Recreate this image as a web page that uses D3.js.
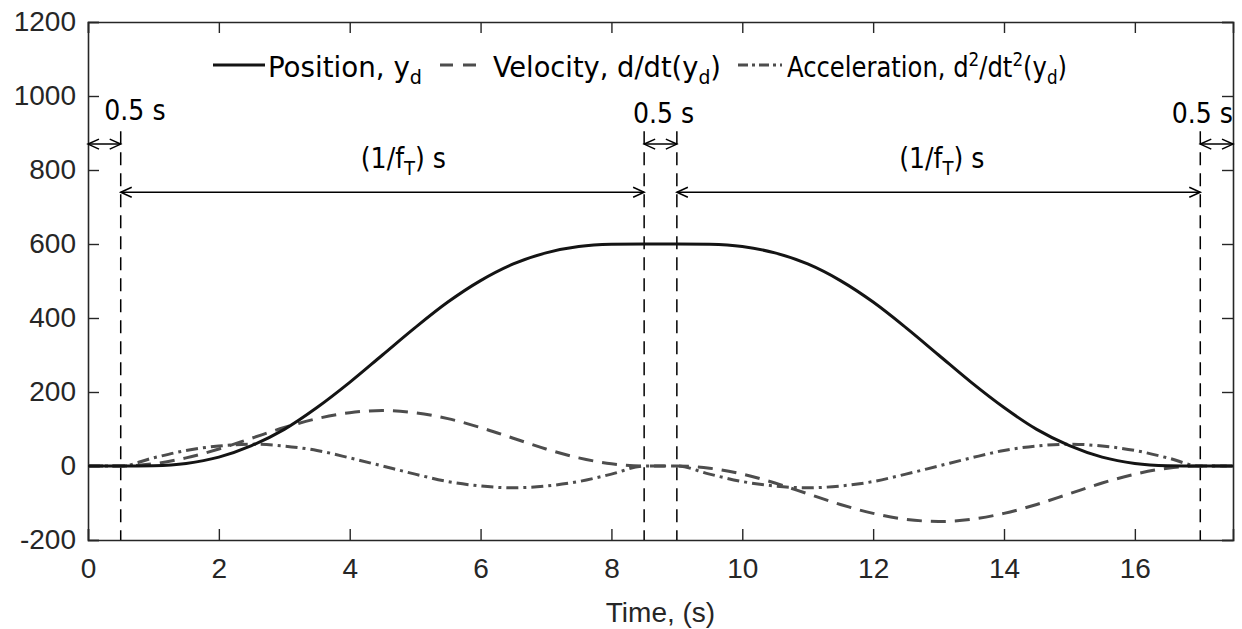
<!DOCTYPE html>
<html>
<head>
<meta charset="utf-8">
<script src="https://cdn.jsdelivr.net/npm/d3@7"></script>
<style>
  body { margin: 0; background: #fff; }
  svg { display: block; }
  .tick text { font-family: "Liberation Sans", Arial, sans-serif; }
</style>
</head>
<body>
<div id="chart"></div>
<script>
// sample times (s) and values
const time = [0, 0.5, 1, 1.5, 2, 2.5, 3, 3.5, 4, 4.5, 5, 5.5, 6, 6.5, 7, 7.5, 8, 8.5,
  9, 9.5, 10, 10.5, 11, 11.5, 12, 12.5, 13, 13.5, 14, 14.5, 15, 15.5, 16, 16.5, 17, 17.5];
const position = [0, 0, 1, 7, 24, 55, 99, 158, 226, 300, 374, 443, 501, 546, 576, 593, 599, 600,
  600, 599, 593, 576, 546, 501, 443, 374, 300, 226, 158, 99, 55, 24, 7, 1, 0, 0];
const velocity = [0, 0, 6, 22, 46, 75, 104, 128, 144, 150, 144, 128, 104, 75, 46, 22, 6, 0,
  0, -6, -22, -46, -75, -104, -128, -144, -150, -144, -128, -104, -75, -46, -22, -6, 0, 0];
const acceleration = [0, 0, 22, 42, 54, 59, 54, 42, 22, 0, -22, -42, -54, -59, -54, -42, -22, 0,
  0, -22, -42, -54, -59, -54, -42, -22, 0, 22, 42, 54, 59, 54, 42, 22, 0, 0];

const xTicks = [0, 2, 4, 6, 8, 10, 12, 14, 16];
const yTicks = [-200, 0, 200, 400, 600, 800, 1000, 1200];

// phase boundaries and annotation arrows
const boundaries = [0.5, 8.5, 9, 17];
const arrowFrom = [0, 0.5, 8.5, 9, 17];
const arrowTo = [0.5, 8.5, 9, 17, 17.5];
const arrowLevel = [870, 740, 870, 740, 870];

const width = 1242;
const height = 629;
const margin = { left: 88, right: 9, top: 22, bottom: 89 };

const svg = d3.select('#chart')
  .append('svg')
  .attr('width', width)
  .attr('height', height);

const x = d3.scaleLinear().domain([0, 17.5]).range([margin.left, width - margin.right]);
const y = d3.scaleLinear().domain([-200, 1200]).range([height - margin.bottom, margin.top]);

const axisColor = '#262626';
const tickLen = 11;

// axes (MATLAB style: ticks inside, box all round)
const gx = svg.append('g')
  .attr('transform', `translate(0,${y(-200)})`)
  .call(d3.axisBottom(x).tickValues(xTicks).tickSize(-tickLen).tickPadding(18));
const gy = svg.append('g')
  .attr('transform', `translate(${x(0)},0)`)
  .call(d3.axisLeft(y).tickValues(yTicks).tickFormat((d) => String(d)).tickSize(-tickLen).tickPadding(12));
svg.append('g')
  .attr('transform', `translate(0,${y(1200)})`)
  .call(d3.axisTop(x).tickValues(xTicks).tickSize(-tickLen).tickFormat(''));
svg.append('g')
  .attr('transform', `translate(${x(17.5)},0)`)
  .call(d3.axisRight(y).tickValues(yTicks).tickSize(-tickLen).tickFormat(''));

svg.selectAll('.domain').attr('stroke', axisColor).attr('stroke-width', 1.6);
svg.selectAll('.tick line').attr('stroke', axisColor).attr('stroke-width', 1.4);
svg.selectAll('.tick text')
  .attr('fill', axisColor)
  .style('font-size', '28px');
gx.selectAll('.tick text').attr('dy', '0.71em');

svg.append('text')
  .attr('x', x(8.75))
  .attr('y', 622)
  .attr('text-anchor', 'middle')
  .attr('fill', axisColor)
  .style('font-family', '"Liberation Sans", Arial, sans-serif')
  .style('font-size', '28px')
  .text('Time, (s)');

// vertical dashed boundary lines
svg.append('g')
  .selectAll('line')
  .data(boundaries)
  .enter()
  .append('line')
  .attr('x1', (d) => x(d))
  .attr('x2', (d) => x(d))
  .attr('y1', y(905))
  .attr('y2', y(-200))
  .attr('stroke', '#000')
  .attr('stroke-width', 1.5)
  .attr('stroke-dasharray', '13,8');

// curves
const series = [
  { values: position, color: '#141414', dash: null, width: 3 },
  { values: velocity, color: '#4d4d4d', dash: '15,9', width: 3 },
  { values: acceleration, color: '#4d4d4d', dash: '12,5,3,5', width: 3 },
];

const line = d3.line()
  .x((d) => x(d[0]))
  .y((d) => y(d[1]))
  .curve(d3.curveMonotoneX);

svg.append('g')
  .selectAll('path')
  .data(series.slice().reverse())
  .enter()
  .append('path')
  .attr('d', (s) => line(time.map((t, i) => [t, s.values[i]])))
  .attr('fill', 'none')
  .attr('stroke', (s) => s.color)
  .attr('stroke-width', (s) => s.width)
  .attr('stroke-dasharray', (s) => s.dash);

// double headed arrows with open heads
const headLen = 11;
const headHalf = 5;
const arrows = svg.append('g').attr('stroke', '#000').attr('stroke-width', 1.5).attr('fill', 'none');
arrowFrom.forEach((a, i) => {
  const x0 = x(a);
  const x1 = x(arrowTo[i]);
  const yy = y(arrowLevel[i]);
  arrows.append('line').attr('x1', x0).attr('x2', x1).attr('y1', yy).attr('y2', yy);
  arrows.append('path').attr('d', `M${x0 + headLen},${yy - headHalf}L${x0},${yy}L${x0 + headLen},${yy + headHalf}`);
  arrows.append('path').attr('d', `M${x1 - headLen},${yy - headHalf}L${x1},${yy}L${x1 - headLen},${yy + headHalf}`);
});

// annotation labels
const annoFont = '"DejaVu Sans Condensed", "DejaVu Sans", sans-serif';
const addLabel = (xPos, yVal, anchor, parts) => {
  const t = svg.append('text')
    .attr('x', xPos)
    .attr('y', y(yVal))
    .attr('text-anchor', anchor)
    .style('font-family', annoFont)
    .style('font-size', '28px')
    .attr('fill', '#000');
  parts.forEach((p) => {
    const span = t.append('tspan').text(p.text);
    if (p.sub) span.attr('dy', 7).style('font-size', '20px');
    if (p.sup) span.attr('dy', -11).style('font-size', '20px');
    if (p.back) span.attr('dy', p.back);
  });
  return t;
};

addLabel(x(0.25), 935, 'start', [{ text: '0.5 s' }]);
addLabel(x(8.33), 927, 'start', [{ text: '0.5 s' }]);
addLabel(x(17.5), 927, 'end', [{ text: '0.5 s' }]);
addLabel(x(4.82), 805, 'middle', [{ text: '(1/f' }, { text: 'T', sub: true }, { text: ') s', back: -7 }]);
addLabel(x(13.05), 805, 'middle', [{ text: '(1/f' }, { text: 'T', sub: true }, { text: ') s', back: -7 }]);

// legend
const legendY = 65;
const legendItems = [
  { x0: 213, x1: 265, textX: 268, textLen: 154, color: '#141414', dash: null,
    parts: [{ text: 'Position, y' }, { text: 'd', sub: true }] },
  { x0: 440, x1: 478, textX: 493, textLen: 228, color: '#4d4d4d', dash: '13,10',
    parts: [{ text: 'Velocity, d/dt(y' }, { text: 'd', sub: true }, { text: ')', back: -7 }] },
  { x0: 738, x1: 782, textX: 787, textLen: 280, color: '#4d4d4d', dash: '10,4,3,4',
    parts: [{ text: 'Acceleration, d' }, { text: '2', sup: true }, { text: '/dt', back: 11 },
      { text: '2', sup: true }, { text: '(y', back: 11 }, { text: 'd', sub: true }, { text: ')', back: -7 }] },
];

legendItems.forEach((item) => {
  svg.append('line')
    .attr('x1', item.x0).attr('x2', item.x1)
    .attr('y1', legendY).attr('y2', legendY)
    .attr('stroke', item.color)
    .attr('stroke-width', 3)
    .attr('stroke-dasharray', item.dash);
  const t = svg.append('text')
    .attr('x', item.textX)
    .attr('y', legendY + 12)
    .attr('textLength', item.textLen)
    .attr('lengthAdjust', 'spacingAndGlyphs')
    .style('font-family', annoFont)
    .style('font-size', '29px')
    .attr('fill', '#000');
  item.parts.forEach((p) => {
    const span = t.append('tspan').text(p.text);
    if (p.sub) span.attr('dy', 7).style('font-size', '20px');
    if (p.sup) span.attr('dy', -11).style('font-size', '20px');
    if (p.back) span.attr('dy', p.back);
  });
});
</script>
</body>
</html>
